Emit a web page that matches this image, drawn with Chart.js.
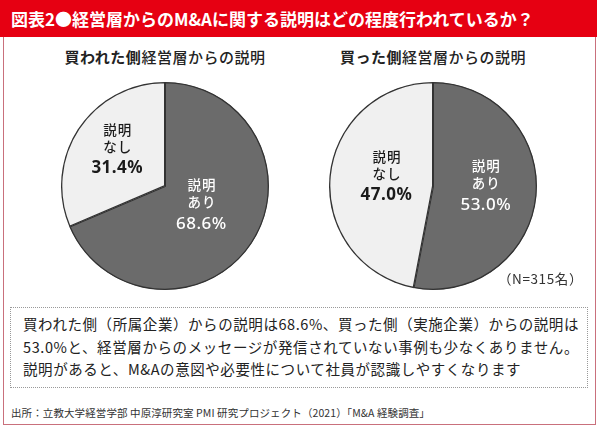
<!DOCTYPE html>
<html><head><meta charset="utf-8">
<script src="https://cdn.jsdelivr.net/npm/chart.js@4"></script>
<style>
html,body{margin:0;padding:0;background:#fff;}
#wrap{position:relative;width:600px;height:430px;overflow:hidden;font-family:"Noto Sans CJK JP","Noto Sans",sans-serif;color:#222;}
#frame{position:absolute;left:3px;top:0;width:591px;height:424px;border:1.5px solid #c9707c;border-top:none;}
#head{position:absolute;left:0;top:0;width:597px;height:37px;background:#e60012;color:#fff;font-weight:700;font-size:17px;line-height:37px;padding-left:11px;box-sizing:border-box;letter-spacing:0px;}
.ptitle{position:absolute;top:46px;width:260px;text-align:center;font-size:15px;line-height:22px;color:#222;letter-spacing:0.5px;}
.ptitle b{font-weight:700;}
.ptitle span{font-weight:500;}
.pie{position:absolute;top:80px;width:212px;height:212px;}
#n{position:absolute;right:17px;top:268px;font-size:13.5px;color:#333;letter-spacing:0.6px;}
#box{position:absolute;left:10px;top:307px;width:578px;height:81px;border:1px dotted #999;box-sizing:border-box;padding:5px 0 0 12px;font-size:14.5px;line-height:22.5px;color:#222;}
#box div{white-space:nowrap;}
#src{position:absolute;left:11px;top:405px;font-size:10.5px;color:#333;white-space:nowrap;letter-spacing:0.1px;}
</style></head>
<body><div id="wrap">
<div id="frame"></div>
<div id="head">図表2●経営層からのM&amp;Aに関する説明はどの程度行われているか？</div>
<div class="ptitle" style="left:35px"><b>買われた側</b><span>経営層からの説明</span></div>
<div class="ptitle" style="left:303px"><b>買った側</b><span>経営層からの説明</span></div>
<div class="pie" style="left:59px"><canvas id="c1"></canvas></div>
<div class="pie" style="left:327px"><canvas id="c2"></canvas></div>
<div id="n">（N=315名）</div>
<div id="box"><div id="l1">買われた側（所属企業）からの説明は68.6%、買った側（実施企業）からの説明は</div><div id="l2">53.0%と、経営層からのメッセージが発信されていない事例も少なくありません。</div><div id="l3">説明があると、M&amp;Aの意図や必要性について社員が認識しやすくなります</div></div>
<div id="src">出所：立教大学経営学部 中原淳研究室 PMI 研究プロジェクト（2021）「M&amp;A 経験調査」</div>
</div>
<script>
const categories = ['説明あり', '説明なし'];
const boughtSideValues = [68.6, 31.4];   // 買われた側
const buyingSideValues = [53.0, 47.0];   // 買った側
const sliceColors = ['#6b6b6b', '#f0f0f0'];
const labelColors = ['#ffffff', '#1a1a1a'];

// fit box lines to target widths via letter-spacing
[['l1', 556], ['l2', 556]].forEach(([id, target]) => {
  const el = document.getElementById(id);
  el.style.display = 'inline-block';
  const w = el.getBoundingClientRect().width;
  const n = el.textContent.length;
  const ls = (target - w) / n;
  el.style.letterSpacing = ls + 'px';
  el.style.display = 'block';
  if (id === 'l1') document.getElementById('l3').style.letterSpacing = ls + 'px';
});

const labelPlugin = {
  id: 'sliceLabels',
  afterDatasetsDraw(chart) {
    const ctx = chart.ctx;
    const meta = chart.getDatasetMeta(0);
    const vals = chart.data.datasets[0].data;
    const frac = chart.options.plugins.sliceLabels.frac;
    meta.data.forEach((arc, i) => {
      const p = arc.getProps(['x','y','startAngle','endAngle','outerRadius']);
      const mid = (p.startAngle + p.endAngle) / 2;
      const r = p.outerRadius * frac[i];
      const x = p.x + Math.cos(mid) * r;
      const y = p.y + Math.sin(mid) * r;
      const cat = chart.data.labels[i];
      ctx.save();
      ctx.fillStyle = labelColors[i];
      ctx.textAlign = 'center';
      ctx.textBaseline = 'middle';
      ctx.font = '500 13.5px "Noto Sans CJK JP"';
      ctx.letterSpacing = '1px';
      ctx.fillText(cat.slice(0, 2), x + 0.5, y - 25);
      ctx.fillText(cat.slice(2), x + 0.5, y - 8);
      ctx.letterSpacing = '0.5px';
      ctx.font = (i === 0 ? '500' : '700') + ' 17px "Noto Sans", "DejaVu Sans"';
      ctx.fillText(vals[i].toFixed(1) + '%', x, y + 14);
      ctx.restore();
    });
  }
};

function makePie(id, values, frac) {
  new Chart(document.getElementById(id), {
    type: 'pie',
    data: {
      labels: categories,
      datasets: [{
        data: values,
        backgroundColor: sliceColors,
        borderColor: '#333333',
        borderWidth: 1,
        borderAlign: 'inner'
      }]
    },
    options: {
      responsive: true,
      maintainAspectRatio: false,
      animation: false,
      layout: { padding: 2 },
      plugins: {
        legend: { display: false },
        tooltip: { enabled: false },
        sliceLabels: { frac: frac }
      }
    },
    plugins: [labelPlugin]
  });
}
makePie('c1', boughtSideValues, [0.42, 0.55]);
makePie('c2', buyingSideValues, [0.51, 0.45]);
</script>
</body></html>
